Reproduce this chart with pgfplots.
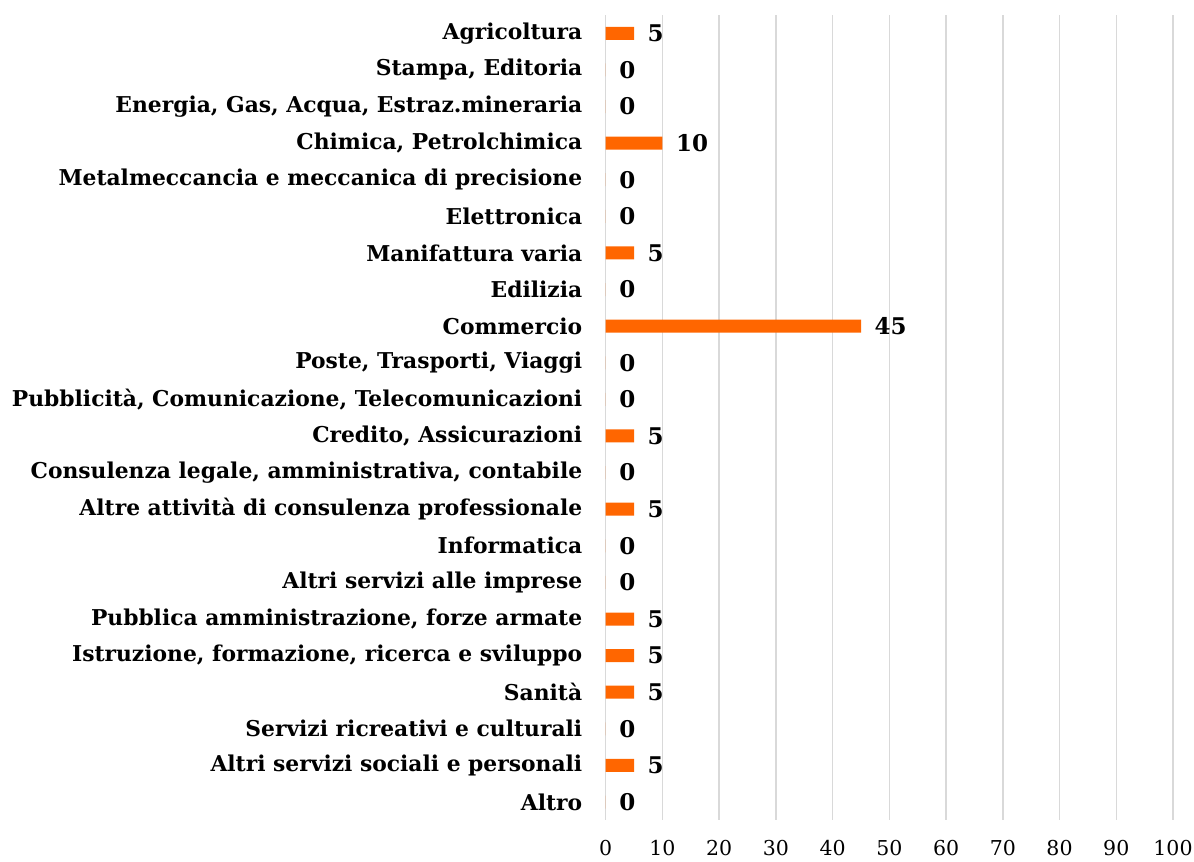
\documentclass[border=0pt]{standalone}
\usepackage{pgfplots}
\pgfplotsset{compat=1.18}
\usepackage{fontspec}
\setmainfont{DejaVu Serif}
\definecolor{barorange}{HTML}{FF6600}
\begin{document}
\begin{tikzpicture}
\begin{axis}[
  scale only axis,
  width=567pt, height=805pt,
  xbar, bar width=13pt,
  xmin=0, xmax=100,
  ymin=-0.5, ymax=21.5,
  y dir=reverse,
  xtick={0,10,...,100},
  ytick={0,...,21},
  yticklabels={Agricoltura,{Stampa, Editoria},{Energia, Gas, Acqua, Estraz.mineraria},{Chimica, Petrolchimica},Metalmeccancia e meccanica di precisione,Elettronica,Manifattura varia,Edilizia,Commercio,{Poste, Trasporti, Viaggi},{Pubblicità, Comunicazione, Telecomunicazioni},{Credito, Assicurazioni},{Consulenza legale, amministrativa, contabile},Altre attività di consulenza professionale,Informatica,Altri servizi alle imprese,{Pubblica amministrazione, forze armate\ },{Istruzione, formazione, ricerca e sviluppo},Sanità,Servizi ricreativi e culturali,Altri servizi sociali e personali,{Altro\ }},
  axis line style={draw=none},
  major tick length=0pt,
  xmajorgrids,
  major grid style={draw=gray!30, line width=1.5pt},
  /pgf/number format/assume math mode=true,
  xticklabel style={font=\fontsize{20.5}{24}\selectfont, yshift=-16pt},
  yticklabel style={font=\fontsize{21.8}{24}\selectfont\bfseries, xshift=-20pt},
  nodes near coords,
  every node near coord/.append style={font=\fontsize{23}{26}\selectfont\bfseries, anchor=west, xshift=10pt},
]
\addplot[draw=none, fill=barorange] coordinates {
(5,0) (0,1) (0,2) (10,3) (0,4) (0,5) (5,6) (0,7) (45,8) (0,9) (0,10)
(5,11) (0,12) (5,13) (0,14) (0,15) (5,16) (5,17) (5,18) (0,19) (5,20) (0,21)
};
\end{axis}
\pgfresetboundingbox
\path ([xshift=-605.5pt,yshift=-41pt]current axis.south west) rectangle ([xshift=21pt,yshift=15pt]current axis.north east);
\end{tikzpicture}
\end{document}
